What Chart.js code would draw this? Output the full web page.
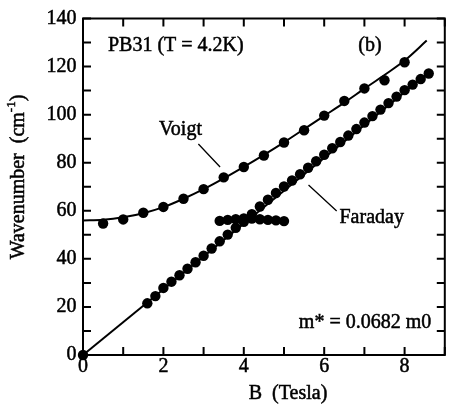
<!DOCTYPE html>
<html>
<head>
<meta charset="utf-8">
<script src="https://cdn.jsdelivr.net/npm/chart.js@4.4.1/dist/chart.umd.min.js"></script>
<style>
html,body{margin:0;padding:0;background:#fff;}
#wrap{width:450px;height:411px;}
</style>
</head>
<body>
<div id="wrap"><canvas id="c" width="450" height="411"></canvas></div>
<script>
// ---- data ----
const voigtB = [0.5, 1, 1.5, 2, 2.5, 3, 3.5, 4, 4.5, 5, 5.5, 6, 6.5, 7, 7.5, 8];
const voigtW = [54.7, 56.4, 59.2, 61.6, 65.0, 69.0, 73.9, 78.2, 83.0, 88.4, 93.5, 99.6, 105.7, 110.9, 114.3, 121.8];

const voigtFitB = [0, 0.5, 1, 1.5, 2, 2.5, 3, 3.5, 4, 4.5, 5, 5.5, 6, 6.5, 7, 7.5, 8, 8.55];
const voigtFitW = [56.0, 56.3, 57.3, 59.0, 61.5, 65.0, 69.0, 73.5, 78.3, 83.3, 88.5, 94.0, 99.5, 105.0, 110.8, 116.5, 122.5, 130.8];

const faradayB = [0, 1.6, 1.8, 2.0, 2.2, 2.4, 2.6, 2.8, 3.0, 3.2, 3.4, 3.6, 3.8, 4.0, 4.2, 4.4, 4.6, 4.8, 5.0, 5.2, 5.4, 5.6, 5.8, 6.0, 6.2, 6.4, 6.6, 6.8, 7.0, 7.2, 7.4, 7.6, 7.8, 8.0, 8.2, 8.4, 8.6];
const faradayW = [0, 21.5, 24.5, 27.9, 30.5, 33.2, 35.9, 38.6, 41.3, 44.3, 47.3, 50.1, 52.9, 55.4, 58.6, 61.8, 64.6, 67.4, 70.1, 72.6, 75.2, 77.9, 80.6, 83.3, 86.0, 88.6, 91.3, 94.0, 96.7, 99.4, 102.1, 104.8, 107.5, 110.2, 112.5, 114.8, 117.1];

const flatB = [3.4, 3.6, 3.8, 4.0, 4.2, 4.4, 4.6, 4.8, 5.0];
const flatW = [55.8, 56.2, 56.5, 56.8, 56.8, 56.5, 56.2, 56.0, 55.7];

const faradayFitB = [0, 8.6];
const faradayFitW = [0, 117.5];

const xTicks = [0, 2, 4, 6, 8];
const yTicks = [0, 20, 40, 60, 80, 100, 120, 140];

const toPts = (xs, ys) => xs.map((x, i) => ({x: x, y: ys[i]}));

const FONT = '"Liberation Serif", "Times New Roman", serif';

const decor = {
  id: 'decor',
  afterDraw(chart) {
    const ctx = chart.ctx;
    const xs = chart.scales.x, ys = chart.scales.y;
    const a = chart.chartArea;
    ctx.save();
    ctx.strokeStyle = '#000';
    ctx.fillStyle = '#000';
    // frame
    ctx.lineWidth = 2;
    ctx.strokeRect(a.left, a.top, a.right - a.left, a.bottom - a.top);
    // inward ticks on all four sides
    const tl = 8;
    ctx.lineWidth = 2;
    ctx.beginPath();
    for (let v = xs.min; v <= xs.max + 1e-9; v += 1) {
      const px = xs.getPixelForValue(v);
      ctx.moveTo(px, a.bottom); ctx.lineTo(px, a.bottom - tl);
      ctx.moveTo(px, a.top); ctx.lineTo(px, a.top + tl);
    }
    for (let v = ys.min; v <= ys.max + 1e-9; v += 10) {
      const py = ys.getPixelForValue(v);
      ctx.moveTo(a.left, py); ctx.lineTo(a.left + tl, py);
      ctx.moveTo(a.right, py); ctx.lineTo(a.right - tl, py);
    }
    ctx.stroke();
    // leader lines
    ctx.lineWidth = 1.3;
    ctx.beginPath();
    ctx.moveTo(xs.getPixelForValue(2.87), ys.getPixelForValue(87.8));
    ctx.lineTo(xs.getPixelForValue(3.41), ys.getPixelForValue(78.2));
    ctx.moveTo(xs.getPixelForValue(5.61), ys.getPixelForValue(70.7));
    ctx.lineTo(xs.getPixelForValue(6.31), ys.getPixelForValue(59.9));
    ctx.stroke();
    // annotations
    ctx.font = '20px ' + FONT;
    ctx.textBaseline = 'middle';
    ctx.textAlign = 'left';
    ctx.lineWidth = 0.5;
    const txt = (s, x, y) => { ctx.fillText(s, x, y); ctx.strokeText(s, x, y); };
    txt('PB31 (T = 4.2K)', xs.getPixelForValue(0.62), ys.getPixelForValue(128.6));
    txt('(b)', xs.getPixelForValue(6.85), ys.getPixelForValue(128.6));
    txt('Voigt', xs.getPixelForValue(1.89), ys.getPixelForValue(93.9));
    txt('Faraday', xs.getPixelForValue(6.38), ys.getPixelForValue(57.1));
    txt('m* = 0.0682 m0', xs.getPixelForValue(5.37), ys.getPixelForValue(13.5));
    // axis titles
    ctx.textAlign = 'center';
    txt('B  (Tesla)', 288, 394);
    ctx.translate(19, 177);
    ctx.rotate(-Math.PI / 2);
    const p1 = 'Wavenumber  (cm', sup = '-1', p3 = ')';
    ctx.font = '20px ' + FONT;
    const w1 = ctx.measureText(p1).width, w3 = ctx.measureText(p3).width;
    ctx.font = '13px ' + FONT;
    const w2 = ctx.measureText(sup).width;
    const total = w1 + w2 + w3;
    let x0 = -total / 2;
    ctx.textAlign = 'left';
    ctx.font = '20px ' + FONT;
    txt(p1, x0, 0);
    ctx.font = '13px ' + FONT;
    txt(sup, x0 + w1, -7);
    ctx.font = '20px ' + FONT;
    txt(p3, x0 + w1 + w2, 0);
    ctx.restore();
  }
};

const dotStyle = { pointRadius: 5.2, backgroundColor: '#000', borderColor: '#000', borderWidth: 0, clip: false };

new Chart(document.getElementById('c'), {
  type: 'scatter',
  data: {
    datasets: [
      { data: toPts(voigtFitB, voigtFitW), showLine: true, borderColor: '#000', borderWidth: 2, pointRadius: 0, tension: 0.4, cubicInterpolationMode: 'monotone', fill: false },
      { data: toPts(faradayFitB, faradayFitW), showLine: true, borderColor: '#000', borderWidth: 2, pointRadius: 0, fill: false },
      Object.assign({ data: toPts(voigtB, voigtW) }, dotStyle),
      Object.assign({ data: toPts(faradayB, faradayW) }, dotStyle),
      Object.assign({ data: toPts(flatB, flatW) }, dotStyle)
    ]
  },
  options: {
    responsive: false,
    animation: false,
    devicePixelRatio: 1,
    layout: { padding: { left: 0, right: 0, top: 12, bottom: 0 } },
    plugins: { legend: { display: false }, tooltip: { enabled: false } },
    scales: {
      x: {
        type: 'linear', min: 0, max: 9,
        grid: { display: false, drawTicks: false, tickLength: 0 }, border: { display: false },
        afterBuildTicks: s => { s.ticks = xTicks.map(v => ({value: v})); },
        ticks: { color: '#000', font: { family: FONT, size: 20 }, padding: -0.5, maxRotation: 0, textStrokeColor: '#000', textStrokeWidth: 0.5 },
        afterFit: s => { s.height = 56; }
      },
      y: {
        type: 'linear', min: 0, max: 140,
        grid: { display: false, drawTicks: false, tickLength: 0 }, border: { display: false },
        afterBuildTicks: s => { s.ticks = yTicks.map(v => ({value: v})); },
        ticks: { color: '#000', font: { family: FONT, size: 20 }, padding: 6.5, textStrokeColor: '#000', textStrokeWidth: 0.5 },
        afterFit: s => { s.width = 83; }
      }
    }
  },
  plugins: [decor]
});
</script>
</body>
</html>
